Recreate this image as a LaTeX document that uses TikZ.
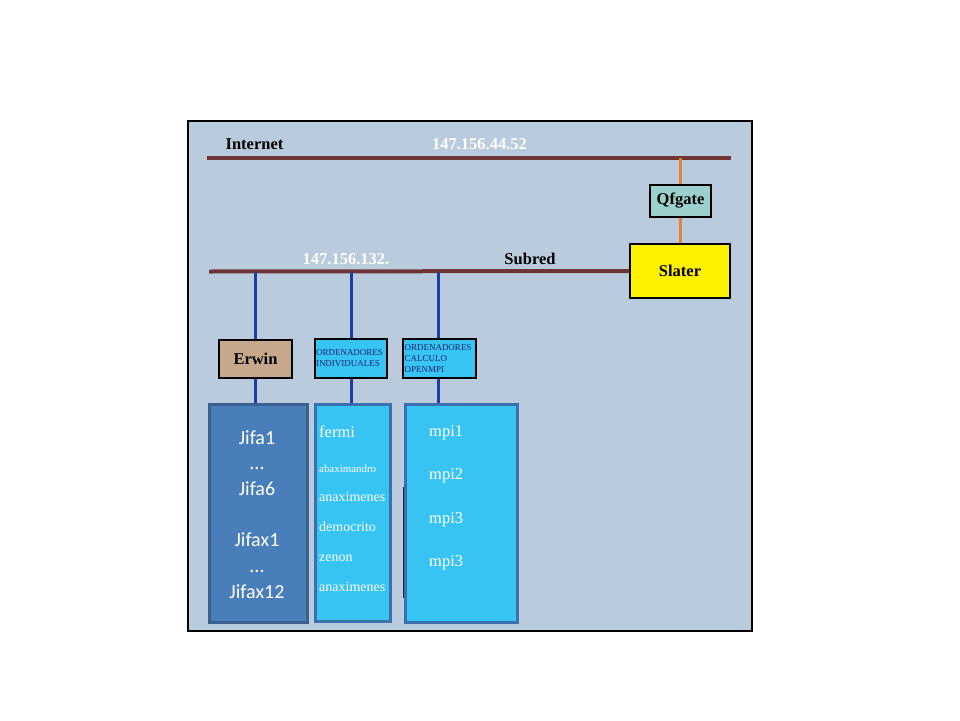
\documentclass[tikz,border=0pt]{standalone}
\usepackage{fontspec}
\setmainfont{Liberation Serif}
\newfontfamily\calib{Carlito}
\definecolor{panel}{HTML}{B9CBDC}
\definecolor{netline}{HTML}{6E3535}
\definecolor{tapblue}{HTML}{1C3FA0}
\definecolor{gateor}{HTML}{E8803A}
\definecolor{qfill}{HTML}{9CD0CC}
\definecolor{erwfill}{HTML}{C8A88C}
\definecolor{cyanbox}{HTML}{38C4F2}
\definecolor{cyanedge}{HTML}{3A70B0}
\definecolor{jifafill}{HTML}{4A7EBB}
\definecolor{jifaedge}{HTML}{3A6290}
\definecolor{smalltxt}{HTML}{1A2370}
\tikzset{
  x=1pt,y=-1pt,
  netbar/.style={line width=4pt,draw=netline},
  tap/.style={line width=3pt,draw=tapblue},
  gatelink/.style={line width=3.2pt,draw=gateor},
  bigbox/.style={draw=black,line width=1.4pt,inner sep=0pt,font=\fontsize{16.5}{18}\selectfont\bfseries},
  smallbox/.style={draw=black,line width=1.4pt,fill=cyanbox,inner sep=0pt,align=left,text=smalltxt,font=\fontsize{9}{11}\selectfont},
  hostbox/.style={draw=cyanedge,line width=2.5pt,fill=cyanbox,inner sep=0pt},
  lbl/.style={font=\fontsize{16.5}{18}\selectfont\bfseries,inner sep=0pt,anchor=base},
  jtxt/.style={font=\calib\fontsize{20}{21}\selectfont,text=white,inner sep=0pt,anchor=base},
  htxt/.style={text=white,inner sep=0pt,anchor=base west,font=\fontsize{14}{16}\selectfont},
  hbig/.style={htxt,font=\fontsize{16.5}{18}\selectfont},
}
\begin{document}
\begin{tikzpicture}
\useasboundingbox (0,0) rectangle (960,720);
\fill[white] (0,0) rectangle (960,720);
\draw[fill=panel,line width=1.4pt] (188,121) rectangle (752,631);

% nodes
\node[bigbox,fill=qfill,minimum width=61pt,minimum height=32pt] (qfgate) at (680.5,201) {Qfgate};
\node[bigbox,fill=yellow,minimum width=100pt,minimum height=54pt] (slater) at (680,271) {Slater};
\node[bigbox,fill=erwfill,minimum width=73pt,minimum height=38pt] (erwin) at (255.5,359) {Erwin};
\node[smallbox,minimum width=72pt,minimum height=39pt,text width=70pt] (indiv) at (351,358.5) {ORDENADORES\\INDIVIDUALES\\[5pt]};
\node[smallbox,minimum width=73pt,minimum height=39pt,text width=70pt] (calc) at (439.5,358.5) {ORDENADORES\\CALCULO\\OPENMPI};
\node[draw=jifaedge,line width=2.5pt,fill=jifafill,minimum width=98pt,minimum height=218pt,inner sep=0pt] (jifa) at (258.5,513.5) {};
\node[hostbox,minimum width=75pt,minimum height=217pt] (fermi) at (353,513) {};
\node[hostbox,minimum width=112pt,minimum height=218pt] (mpi) at (461.5,513.5) {};

% network bars
\coordinate (inetL) at (207,157.5);
\coordinate (inetR) at (731,157.5);
\coordinate (inetTap) at (680.5,157.5);
\coordinate (subL) at (209,271.5);
\coordinate (tapA) at (255.5,271.5);
\coordinate (tapB) at (351,271.5);
\coordinate (tapC) at (438,271.5);
\draw[netbar] (inetL) -- (inetR);
\draw[netbar] (subL) -- (slater.west);
\draw[gatelink] (inetTap) -- (qfgate.north);
\draw[gatelink] (qfgate.south) -- (slater.north -| qfgate.south);

% taps
\draw[tap] (tapA) -- (erwin.north);
\draw[tap] (erwin.south) -- (erwin.south |- jifa.north);
\draw[tap] (tapB) -- (indiv.north);
\draw[tap] (indiv.south) -- (indiv.south |- fermi.north);
\draw[tap] (tapC) -- (tapC |- calc.north);
\draw[tap] (tapC |- calc.south) -- (tapC |- mpi.north);

% stray line
\coordinate (strayT) at (403.3,487);
\coordinate (strayB) at (403.3,598);
\draw[line width=1.3pt,black!85] (strayT) -- (strayB);

% labels
\node[lbl] (tInternet) at (254.5,149.5) {Internet};
\node[lbl,text=white] (tIP1) at (479.5,149.5) {147.156.44.52};
\node[lbl,text=white] (tIP2) at (346,264) {147.156.132.};
\node[lbl] (tSubred) at (530,264) {Subred};

% jifa texts
\node[jtxt] (j1) at (257,444) {Jifa1};
\node[jtxt] (j2) at (257,469) {...};
\node[jtxt] (j3) at (257,495) {Jifa6};
\node[jtxt] (j4) at (257,546) {Jifax1};
\node[jtxt] (j5) at (257,572) {...};
\node[jtxt] (j6) at (257,598) {Jifax12};

% fermi texts
\node[hbig] (f1) at (319,437) {fermi};
\node[htxt,font=\fontsize{10.9}{12}\selectfont] (f2) at (319,472) {abaximandro};
\node[htxt] (f3) at (319,501) {anaximenes};
\node[htxt] (f4) at (319,531) {democrito};
\node[htxt] (f5) at (319,561) {zenon};
\node[htxt] (f6) at (319,591) {anaximenes};

% mpi texts
\node[hbig] (m1) at (429,436) {mpi1};
\node[hbig] (m2) at (429,479) {mpi2};
\node[hbig] (m3) at (429,523) {mpi3};
\node[hbig] (m4) at (429,566) {mpi3};
\end{tikzpicture}
\end{document}
